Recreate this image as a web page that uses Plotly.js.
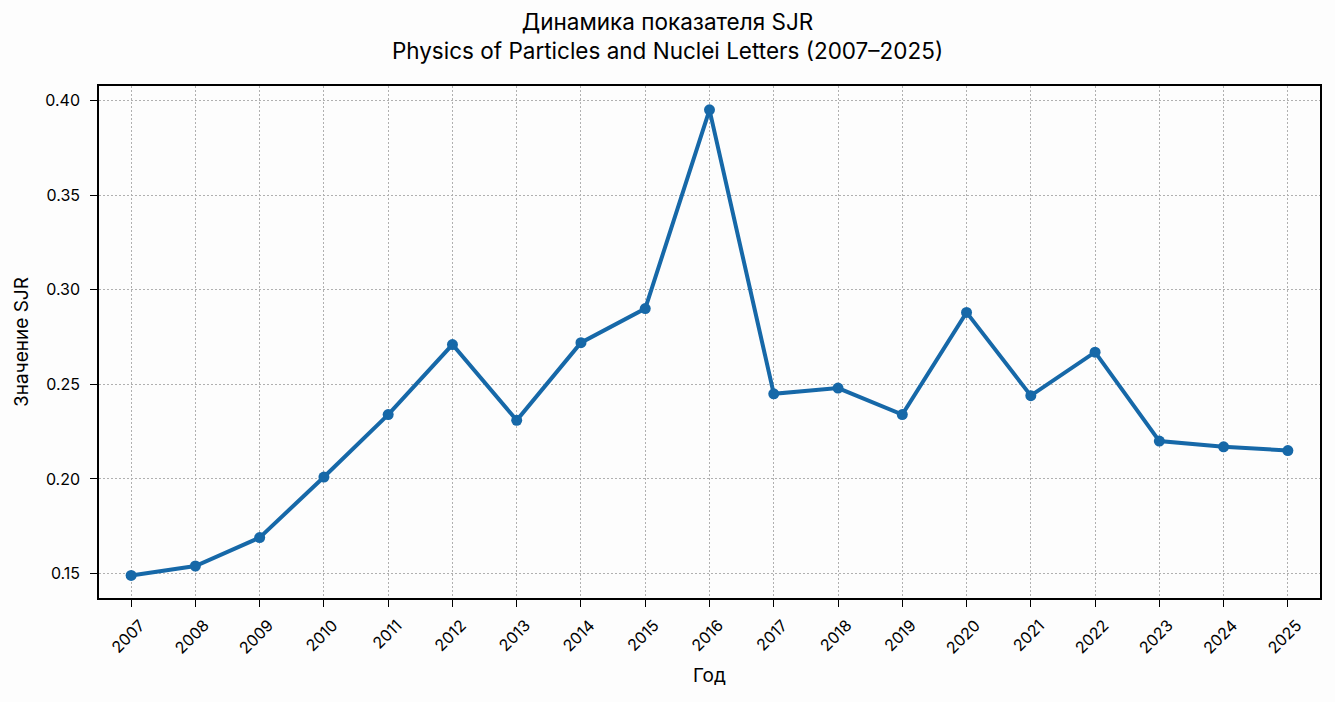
<!DOCTYPE html>
<html>
<head>
<meta charset="utf-8">
<script src="https://cdn.plot.ly/plotly-3.0.1.min.js"></script>
<style>html,body{margin:0;padding:0;background:#fdfdfd;}#chart{width:1335px;height:702px;}</style>
</head>
<body>
<div id="chart"></div>
<script>
const years = ["2007","2008","2009","2010","2011","2012","2013","2014","2015","2016","2017","2018","2019","2020","2021","2022","2023","2024","2025"];
const sjrValues = [0.149,0.154,0.169,0.201,0.234,0.271,0.231,0.272,0.290,0.395,0.245,0.248,0.234,0.288,0.244,0.267,0.220,0.217,0.215];
const yTickValues = [0.15,0.20,0.25,0.30,0.35,0.40];
const yTickLabels = ["0.15","0.20","0.25","0.30","0.35","0.40"];
const titleText = "Динамика показателя SJR<br>Physics of Particles and Nuclei Letters (2007–2025)";
const xTitle = "Год";
const yTitle = "Значение SJR";

const FONT = "Inter, Roboto, 'DejaVu Sans', sans-serif";

const trace = {
  x: years,
  y: sjrValues,
  type: "scatter",
  mode: "lines+markers",
  line: {color: "#1668a8", width: 4},
  marker: {color: "#1668a8", size: 11},
  hoverinfo: "x+y"
};

const gridDash = "1.5px,2.5px";

const layout = {
  width: 1335,
  height: 702,
  paper_bgcolor: "#fdfdfd",
  plot_bgcolor: "#fdfdfd",
  margin: {l: 99, r: 15, t: 86, b: 104},
  font: {family: FONT, color: "#000"},
  showlegend: false,
  title: {
    text: titleText,
    font: {family: FONT, size: 22.5, color: "#000"},
    x: 0.5, xanchor: "center",
    yref: "container",
    y: 1 - 30 / 702, yanchor: "top"
  },
  xaxis: {
    type: "category",
    range: [-0.5, 18.5],
    tickangle: -45,
    ticks: "outside",
    ticklen: 7,
    tickwidth: 1.3,
    tickcolor: "#000",
    ticklabelshift: 9,
    ticklabelstandoff: 3,
    tickfont: {family: FONT, size: 16, color: "#000"},
    showgrid: true,
    gridcolor: "#b0b0b0",
    griddash: gridDash,
    gridwidth: 1.2,
    showline: true,
    linecolor: "#000",
    linewidth: 1.5,
    mirror: true,
    zeroline: false,
    title: {text: xTitle, font: {family: FONT, size: 19, color: "#000"}, standoff: 12}
  },
  yaxis: {
    range: [0.1371, 0.4076],
    tickvals: yTickValues,
    ticktext: yTickLabels,
    ticks: "outside",
    ticklen: 7,
    tickwidth: 1.3,
    tickcolor: "#000",
    ticklabelstandoff: 7,
    tickfont: {family: FONT, size: 16, color: "#000"},
    showgrid: true,
    gridcolor: "#b0b0b0",
    griddash: gridDash,
    gridwidth: 1.2,
    showline: true,
    linecolor: "#000",
    linewidth: 1.5,
    mirror: true,
    zeroline: false,
    title: {text: yTitle, font: {family: FONT, size: 19, color: "#000"}, standoff: 12}
  }
};

Plotly.newPlot("chart", [trace], layout, {displayModeBar: false, responsive: false});
</script>
</body>
</html>
